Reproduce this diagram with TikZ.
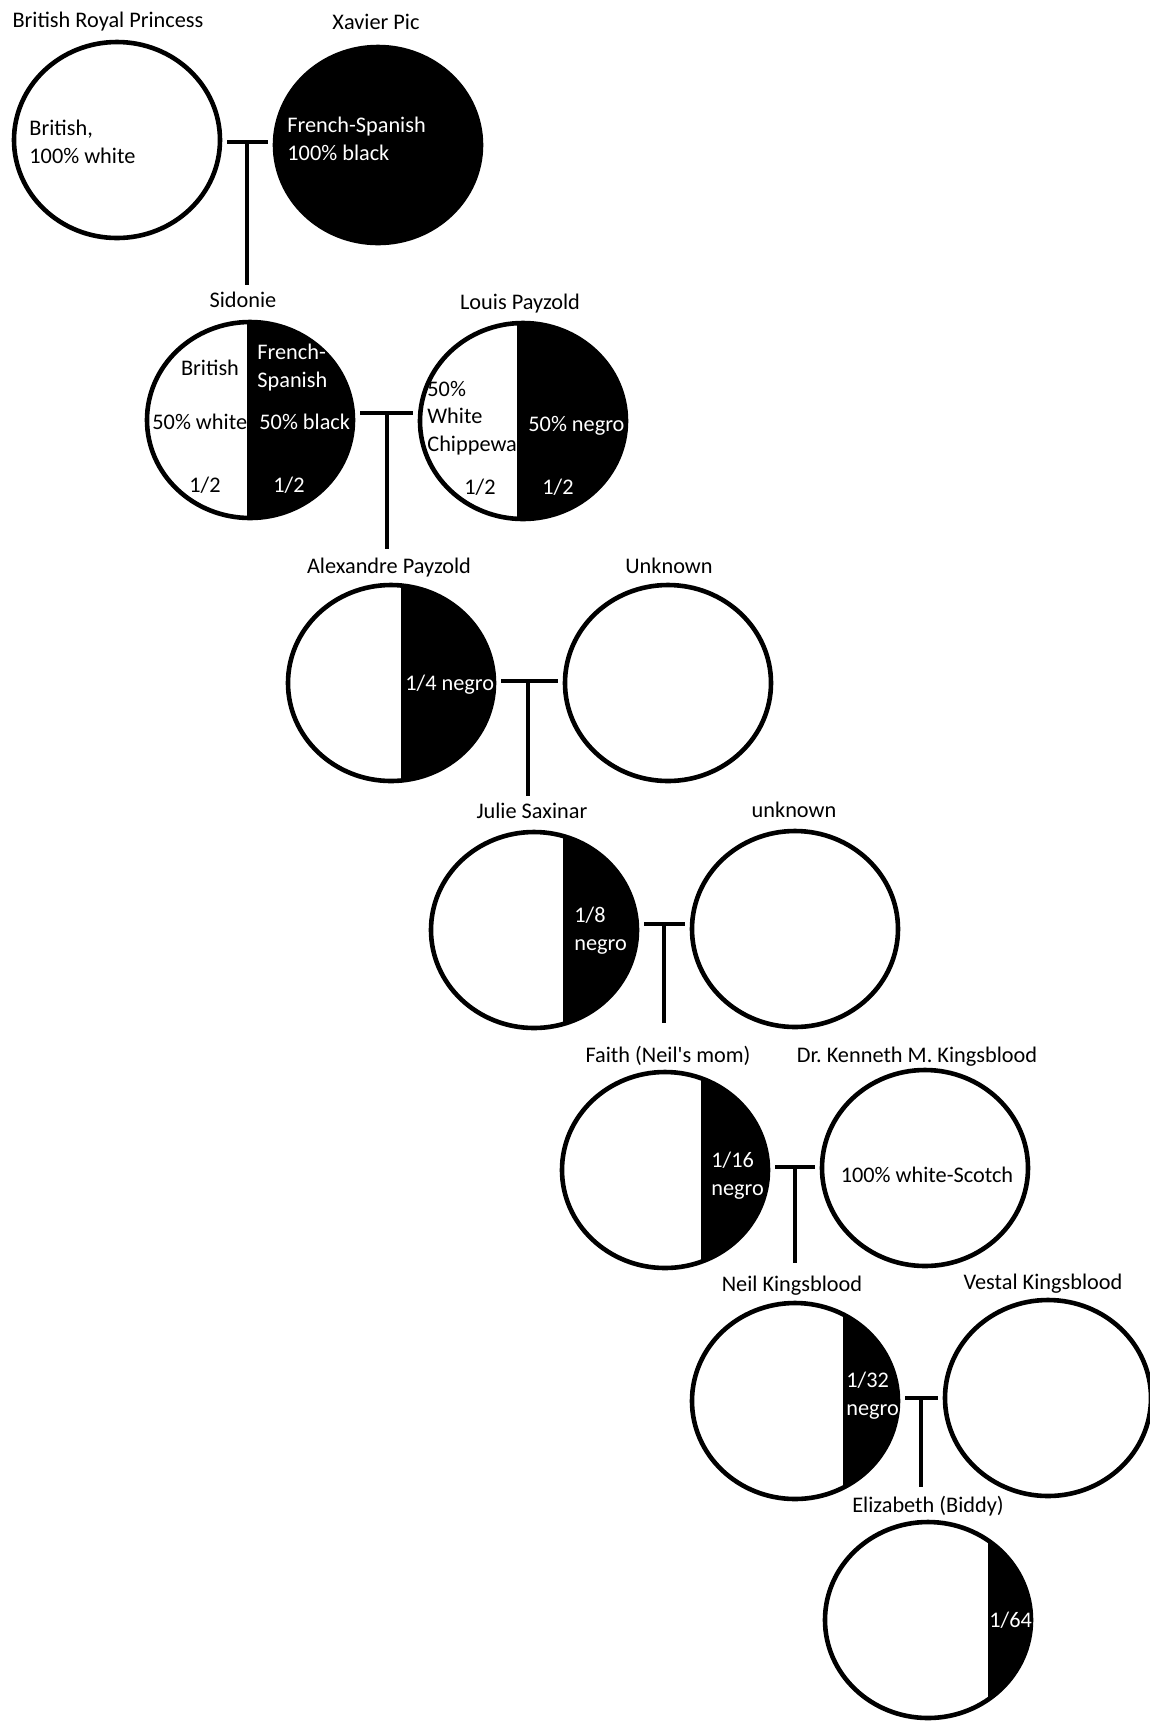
\documentclass[tikz,border=0pt]{standalone}
\usepackage{fontspec}
\setmainfont{Carlito}
\usetikzlibrary{shapes.geometric,calc}

\tikzset{
  person/.style={ellipse, draw, line width=2.3pt, minimum width=103pt, minimum height=98pt, inner sep=0pt},
  share/.style={path picture={\fill[black] ($(path picture bounding box.north west)!#1!(path picture bounding box.north east)$) rectangle (path picture bounding box.south east);}},
  who/.style={anchor=base, inner sep=1pt},
  txt/.style={anchor=base west, inner sep=0pt, align=left},
  wtxt/.style={txt, text=white},
  bar/.style={line width=2.3pt, shorten <=2.5pt, shorten >=2.5pt},
}

\begin{document}
\begin{tikzpicture}[x=0.5pt, y=-0.5pt, font=\fontsize{11.15}{13.6}\selectfont]
\useasboundingbox[fill=white] (0,0) rectangle (1150,1721);

% people
\node[person] (princess) at (117,140) {};
\node[person, fill=black] (xavier) at (378,145) {};
\node[person, share=.485] (sidonie) at (250,420) {};
\node[person, share=.471] (louis) at (523,421) {};
\node[person, share=.549] (alexandre) at (391,683) {};
\node[person] (unknownA) at (668,683) {};
\node[person, share=.641] (julie) at (534,930) {};
\node[person] (unknownB) at (795,929) {};
\node[person, share=.675] (faith) at (665,1170) {};
\node[person] (kenneth) at (925,1168) {};
\node[person, share=.733] (neil) at (795,1401) {};
\node[person] (vestal) at (1048,1398) {};
\node[person, share=.791] (elizabeth) at (928,1620) {};

% names
\node[who] (princess-l) at (108,27) {British Royal Princess};
\node[who] (xavier-l) at (376,29) {Xavier Pic};
\node[who] (sidonie-l) at (243,307) {Sidonie};
\node[who] (louis-l) at (520,309) {Louis Payzold};
\node[who] (alexandre-l) at (389,573) {Alexandre Payzold};
\node[who] (unknownA-l) at (669,573) {Unknown};
\node[who] (julie-l) at (532,818) {Julie Saxinar};
\node[who] (unknownB-l) at (794,817) {unknown};
\node[who] (faith-l) at (668,1062) {Faith (Neil\textquotesingle s mom)};
\node[who] (kenneth-l) at (917,1062) {Dr.\ Kenneth M. Kingsblood};
\node[who] (neil-l) at (792,1291) {Neil Kingsblood};
\node[who] (vestal-l) at (1043,1289) {Vestal Kingsblood};
\node[who] (elizabeth-l) at (928,1512) {Elizabeth (Biddy)};

% shares (base = last line)
\node[txt] (princess-t) at (29,163) {British,\\100\% white};
\node[wtxt] (xavier-t) at (287,160) {French-Spanish\\100\% black};
\node[who] (sidonie-t1) at (210,375) {British};
\node[wtxt] (sidonie-t2) at (257,387) {French-\\Spanish};
\node[txt] (sidonie-t3) at (152,429) {50\% white};
\node[wtxt] (sidonie-t4) at (259,429) {50\% black};
\node[who] (sidonie-t5) at (205,492) {1/2};
\node[who, text=white] (sidonie-t6) at (289,492) {1/2};
\node[txt] (louis-t1) at (427,451) {50\%\\White\\Chippewa};
\node[wtxt] (louis-t2) at (528,431) {50\% negro};
\node[who] (louis-t3) at (480,494) {1/2};
\node[who, text=white] (louis-t4) at (558,494) {1/2};
\node[wtxt] (alexandre-t) at (405,690) {1/4 negro};
\node[wtxt] (julie-t) at (574,950) {1/8\\negro};
\node[wtxt] (faith-t) at (711,1195) {1/16\\negro};
\node[who] (kenneth-t) at (927,1182) {100\% white-Scotch};
\node[wtxt] (neil-t) at (846,1415) {1/32\\negro};
\node[wtxt] (elizabeth-t) at (989,1627) {1/64};

% unions
\coordinate (u1) at (247,142);
\coordinate (u2) at (387,413);
\coordinate (u3) at (528,681);
\coordinate (u4) at (664,924);
\coordinate (u5) at (795,1167);
\coordinate (u6) at (921,1398);

\draw[bar] (u1 -| princess.east) -- (u1 -| xavier.west);
\draw[bar, shorten <=0pt, shorten >=2pt] (u1) -- (u1 |- sidonie-l.north);
\draw[bar] (u2 -| sidonie.east) -- (u2 -| louis.west);
\draw[bar, shorten <=0pt, shorten >=3pt] (u2) -- (u2 |- alexandre-l.north);
\draw[bar] (u3 -| alexandre.east) -- (u3 -| unknownA.west);
\draw[bar, shorten <=0pt, shorten >=2pt] (u3) -- (u3 |- julie-l.north);
\draw[bar] (u4 -| julie.east) -- (u4 -| unknownB.west);
\draw[bar, shorten <=0pt, shorten >=10pt] (u4) -- (u4 |- faith-l.north);
\draw[bar] (u5 -| faith.east) -- (u5 -| kenneth.west);
\draw[bar, shorten <=0pt, shorten >=5pt] (u5) -- (u5 |- neil-l.north);
\draw[bar] (u6 -| neil.east) -- (u6 -| vestal.west);
\draw[bar, shorten <=0pt, shorten >=3pt] (u6) -- (u6 |- elizabeth-l.north);
\end{tikzpicture}
\end{document}
